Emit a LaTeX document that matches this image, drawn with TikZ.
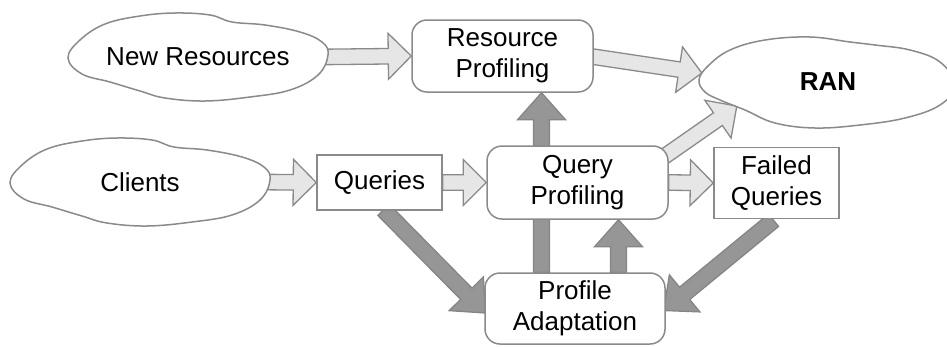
\documentclass[tikz,border=0pt]{standalone}
\usepackage{fontspec}
\setmainfont{Liberation Sans}
\usetikzlibrary{calc}
\pgfdeclarelayer{back}
\pgfsetlayers{back,main}
\definecolor{edge}{HTML}{8A8A8A}
\definecolor{paleflow}{HTML}{E6E6E6}
\definecolor{darkflow}{HTML}{969696}
\definecolor{darkedge}{HTML}{858585}

\tikzset{
  lbl/.style={font=\fontsize{26}{31}\selectfont, align=center, inner sep=0pt},
  box/.style={lbl, draw=edge, line width=1.5pt, fill=white},
  roundbox/.style={box, rounded corners=15pt},
  cloudline/.style={draw=edge, line width=1.5pt, fill=white},
  pale arrow/.style={draw=edge, fill=paleflow, line width=1.3pt},
  dark arrow/.style={draw=darkedge, fill=darkflow, line width=1.3pt},
  cloudshape/.pic={
    \path[cloudline] plot[smooth cycle, tension=0.65] coordinates {
      (68,58) (80,40) (105,24) (140,16) (175,13) (210,15) (232,22)
      (265,25) (300,32) (322,42) (328,55) (318,75) (290,90) (250,97)
      (205,101) (165,98) (140,91) (110,82) (82,74)};
  }
}

% block arrow: #1 style, #2 half shaft width, #3 half head width,
% #4 head length, #5 tail point, #6 tip point
\newcommand\blockarrow[6]{%
  \coordinate (ba-s) at (#5);
  \coordinate (ba-e) at (#6);
  \coordinate (ba-h) at ($(ba-e)!#4!(ba-s)$);
  \path[#1] ($(ba-s)!#2!90:(ba-e)$) -- ($(ba-h)!#2!90:(ba-e)$)
    -- ($(ba-h)!#3!90:(ba-e)$) -- (ba-e) -- ($(ba-h)!#3!-90:(ba-e)$)
    -- ($(ba-h)!#2!-90:(ba-e)$) -- ($(ba-s)!#2!-90:(ba-e)$) -- cycle;
}
\newcommand\lightflow[2]{\blockarrow{pale arrow}{7.75pt}{23pt}{23pt}{#1}{#2}}
\newcommand\heavyflow[2]{\blockarrow{dark arrow}{8pt}{24pt}{27pt}{#1}{#2}}

\begin{document}
\begin{tikzpicture}[x=1pt, y=-1pt]
  \useasboundingbox (0,0) rectangle (947,346);

  % clouds
  \pic at (0,0) {cloudshape};
  \pic at (-58,125) {cloudshape};
  \path[cloudline] plot[smooth cycle, tension=0.65] coordinates {
    (699,80) (708,66) (730,50) (765,40) (810,37) (850,42) (875,45)
    (910,50) (940,62) (955,85) (940,105) (905,118) (860,125) (815,128)
    (775,123) (745,110) (720,100) (705,92)};

  \node[lbl, minimum width=260pt, minimum height=88pt] (nr) at (198,57) {New Resources};
  \node[lbl, minimum width=260pt, minimum height=88pt] (cl) at (140,182) {Clients};
  \node[lbl, font=\fontsize{26}{31}\selectfont\bfseries,
        minimum width=256pt, minimum height=91pt] (ran) at (828,82) {RAN};

  % process boxes
  \node[roundbox, minimum width=181pt, minimum height=72pt] (rp) at (502.5,56) {Resource\\Profiling};
  \node[roundbox, minimum width=181pt, minimum height=73pt] (qp) at (577.5,182.5) {Query\\Profiling};
  \node[roundbox, minimum width=180pt, minimum height=71pt] (pa) at (575,308.5) {Profile\\Adaptation};
  \node[box, minimum width=125pt, minimum height=55pt] (qu) at (379.5,182.5) {Queries};
  \node[box, minimum width=125pt, minimum height=71pt] (fq) at (776.5,183) {Failed\\Queries};

  % flows, kept behind the boxes
  \begin{pgfonlayer}{back}
    \lightflow{$(nr.east)+(-10,0)$}{rp.west}
    \lightflow{$(cl.east)+(-10,0)$}{qu.west}
    \lightflow{qu.east}{qp.west}
    \lightflow{qp.east}{fq.west}
    \lightflow{$(rp.east)+(-5,0)$}{$(ran.west)+(2,-9)$}
    \lightflow{$(qp.north east)+(-17,20)$}{$(ran.west)+(37,24)$}
    \heavyflow{$(qu.south)+(4,-1)$}{$(pa.west)+(1,4.5)$}
    \heavyflow{$(fq.south)+(-3,1)$}{$(pa.east)+(-2,2)$}
    \coordinate (pa-l) at ($(pa.north)+(-33.5,0)$);
    \coordinate (pa-r) at ($(pa.north)+(43.5,0)$);
    \heavyflow{pa-l}{pa-l |- rp.south}
    \heavyflow{pa-r}{pa-r |- qp.south}
  \end{pgfonlayer}
\end{tikzpicture}
\end{document}
